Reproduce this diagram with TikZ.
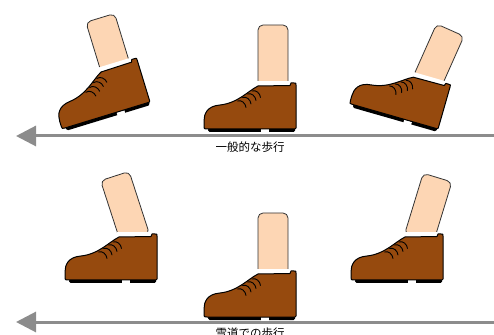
\documentclass[tikz,border=0pt]{standalone}
\usepackage{fontspec}
\newfontfamily\jpfont{Noto Sans CJK JP}
\usetikzlibrary{arrows.meta}

\definecolor{shoebrown}{RGB}{150,74,14}
\definecolor{skin}{RGB}{253,214,180}
\definecolor{roadgray}{RGB}{140,140,140}

% one foot: #1 heel corner, #2 shoe angle, #3 shin angle, #4 shin length
\newcommand{\walkfoot}[4]{%
\begin{scope}[shift={#1},rotate=#2]
\draw[shin,shift={(-23,45)},rotate=#3] (-15,-4) rectangle (15,#4);
\fill[white] (-40,42) rectangle (-5,48);
\fill[black,rounded corners=1.5pt] (-88,-3) rectangle (-1,1);
\fill[white] (-35,-3.6) rectangle (-27,-0.3);
\draw[shoe] (0,1) -- (0,44) .. controls (0,46) .. (-2,46) -- (-5,46) -- (-6,43.5)
  -- (-38,43) .. controls (-48,38) and (-58,26) .. (-76,24)
  .. controls (-89,23) and (-92,15) .. (-92,8) -- (-92,3)
  .. controls (-92,0) .. (-89,0) -- (-1,0) .. controls (0,0) .. (0,1) -- cycle;
\foreach \x/\y in {-44/38,-48.5/35,-53.5/31.5,-58.5/28}
  \draw[lace] (\x,\y) to[out=20,in=95] ++(8.5,-6.5);
\end{scope}}

\begin{document}
\begin{tikzpicture}[x=1pt,y=1pt,
  shoe/.style={fill=shoebrown,draw=black,line width=1pt,line join=round},
  shin/.style={fill=skin,draw=black!80,line width=0.8pt,rounded corners=5pt},
  lace/.style={draw=black,line width=0.9pt,line cap=round},
  road/.style={draw=roadgray,line width=3pt,-{Triangle[length=20pt,width=20pt]}},
  caption/.style={font=\jpfont\fontsize{11.5}{12}\selectfont,text=black}]
\useasboundingbox (0,0) rectangle (494,334);

% ordinary walking
\coordinate (road1 east) at (494,198);
\coordinate (road1 west) at (16,198);
\draw[road] (road1 east) -- (road1 west);
\node[caption] (walk1) at (250,187) {一般的な歩行};
\walkfoot{(150,232)}{17}{0}{50}
\walkfoot{(296,205)}{0}{0}{59}
\walkfoot{(438,205)}{-16}{-8}{54}

% walking on snow
\coordinate (road2 east) at (494,12);
\coordinate (road2 west) at (16,12);
\draw[road] (road2 east) -- (road2 west);
\node[caption] (walk2) at (250,1) {雪道での歩行};
\walkfoot{(157,54)}{0}{18}{62}
\walkfoot{(296,17)}{0}{0}{59}
\walkfoot{(443,54)}{0}{-17}{60}
\end{tikzpicture}
\end{document}
